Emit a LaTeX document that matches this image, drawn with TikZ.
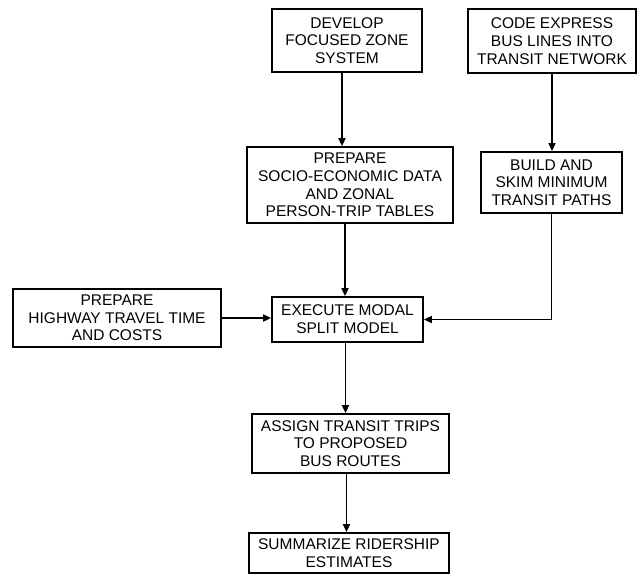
\documentclass[tikz,border=0pt]{standalone}
\usepackage{fontspec}
\setmainfont{Liberation Sans}
\usetikzlibrary{positioning,shapes,arrows.meta,calc}

\begin{document}
\begin{tikzpicture}[x=1pt,y=-1pt,
        box/.style={rectangle,draw,line width=1.8pt,align=center,inner sep=0pt,
            font=\fontsize{15.5}{17.7}\selectfont},
        flow/.style={line width=1.8pt,-{Triangle[length=8pt,width=7pt]}}]
            \useasboundingbox (0,0) rectangle (638,574);
            \node[box,minimum width=150,minimum height=63] (zone) at (347,40.5) {
                DEVELOP\\FOCUSED ZONE\\SYSTEM
            };
            \node[box,minimum width=168,minimum height=64] (express) at (552,41) {
                CODE EXPRESS\\BUS LINES INTO\\TRANSIT NETWORK
            };
            \node[box,minimum width=206,minimum height=76] (socio) at (350,185) {
                PREPARE\\SOCIO-ECONOMIC DATA\\AND ZONAL\\PERSON-TRIP TABLES
            };
            \node[box,minimum width=141,minimum height=61] (skim) at (551.5,182.5) {
                BUILD AND\\SKIM MINIMUM\\TRANSIT PATHS
            };
            \node[box,minimum width=208,minimum height=58] (highway) at (117,318) {
                PREPARE\\HIGHWAY TRAVEL TIME\\AND COSTS
            };
            \node[box,minimum width=151,minimum height=45] (modal) at (347.5,319.5) {
                EXECUTE MODAL\\SPLIT MODEL
            };
            \node[box,minimum width=197,minimum height=59] (assign) at (350.5,443.5) {
                ASSIGN TRANSIT TRIPS\\TO PROPOSED\\BUS ROUTES
            };
            \node[box,minimum width=200,minimum height=40] (summary) at (349,553) {
                SUMMARIZE RIDERSHIP\\ESTIMATES
            };
            % connectors
            \coordinate (zoneout) at ($(zone.south)+(-5,0)$);
            \coordinate (socioout) at ($(socio.south)+(-5,0)$);
            \coordinate (modalout) at ($(modal.south)+(-2,0)$);
            \coordinate (assignout) at ($(assign.south)+(-4,0)$);
            \draw[flow] (zoneout) -- (zoneout |- socio.north);
            \draw[flow] (socioout) -- (socioout |- modal.north);
            \draw[flow] (express.south) -- (express.south |- skim.north);
            \draw[flow] (skim.south) |- (modal.east);
            \draw[flow] (highway.east) -- (highway.east -| modal.west);
            \draw[flow] (modalout) -- (modalout |- assign.north);
            \draw[flow] (assignout) -- (assignout |- summary.north);
        \end{tikzpicture}
\end{document}
